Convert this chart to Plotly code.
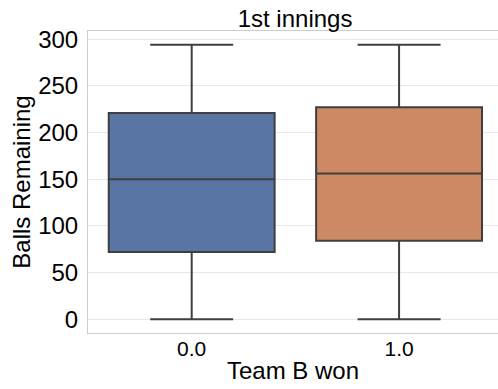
import plotly.graph_objects as go

# Box statistics per outcome group
categories = ["0.0", "1.0"]
lower_whisker = [0, 0]
q1 = [72, 84]
median = [150, 156]
q3 = [221, 227]
upper_whisker = [294, 294]
colors = ["#5975a4", "#cc8963"]

y_ticks = [0, 50, 100, 150, 200, 250, 300]

FONT = "Liberation Sans, Arial, Helvetica, sans-serif"
EDGE = "#3f3f3f"

fig = go.Figure()
for i, cat in enumerate(categories):
    fig.add_trace(go.Box(
        x=[cat],
        q1=[q1[i]],
        median=[median[i]],
        q3=[q3[i]],
        lowerfence=[lower_whisker[i]],
        upperfence=[upper_whisker[i]],
        fillcolor=colors[i],
        line=dict(color=EDGE, width=2),
        width=0.8,
        whiskerwidth=0.5,
        boxpoints=False,
        showlegend=False,
        hoverinfo="skip",
    ))

fig.update_layout(
    width=498,
    height=389,
    margin=dict(l=88, r=0, t=31, b=56),
    paper_bgcolor="white",
    plot_bgcolor="white",
    font=dict(family=FONT, color="black"),
    boxmode="overlay",
    title=dict(
        text="1st innings",
        font=dict(size=24, color="black"),
        x=0.505, xref="paper", xanchor="center",
        y=1, yref="paper", yanchor="bottom",
        pad=dict(b=4),
    ),
    xaxis=dict(
        type="category",
        categoryorder="array",
        categoryarray=categories,
        range=[-0.5, 1.477],
        showgrid=False,
        showline=True, linecolor="#cccccc", linewidth=1, mirror=True,
        ticks="", ticklabelstandoff=-3,
        tickfont=dict(size=21, color="black"),
        title=dict(text="Team B won", font=dict(size=24, color="black"), standoff=2),
        zeroline=False,
    ),
    yaxis=dict(
        range=[-14.7, 308.7],
        tickvals=y_ticks,
        showgrid=True, gridcolor="#e8e8e8", gridwidth=1,
        showline=True, linecolor="#cccccc", linewidth=1, mirror=True,
        ticks="outside", ticklen=4, tickcolor="rgba(0,0,0,0)",
        tickfont=dict(size=24, color="black"),
        title=dict(text="Balls Remaining", font=dict(size=24, color="black"), standoff=0),
        zeroline=False,
    ),
)

fig.write_html("out.html")
